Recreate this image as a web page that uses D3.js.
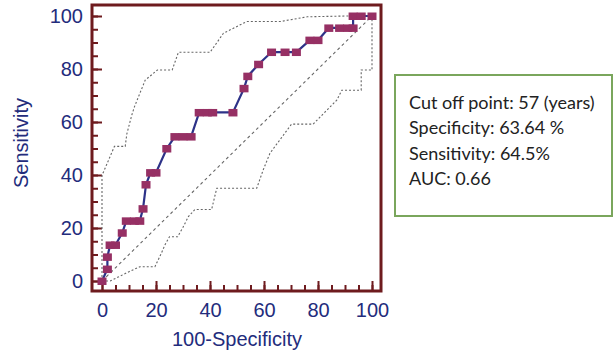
<!DOCTYPE html>
<html>
<head>
<meta charset="utf-8">
<script src="https://cdn.jsdelivr.net/npm/d3@7"></script>
<style>
  body { margin: 0; background: #fff; }
  svg { display: block; }
</style>
</head>
<body>
<div id="chart-area"></div>
<script>
// ROC curve (100-specificity, sensitivity)
const rocX = [0, 2, 2, 3, 5, 7.5, 9, 12, 14, 15.2, 16.3, 18, 20, 24, 27, 30, 33, 36, 39, 41, 48.5, 52.6, 54, 58, 62.8, 67.8, 72, 77, 80, 84, 88, 91, 93, 93, 96, 100]
const rocY = [0, 4.5, 9.1, 13.6, 13.6, 18.2, 22.7, 22.7, 22.7, 27.3, 36.4, 40.9, 40.9, 50, 54.5, 54.5, 54.5, 63.6, 63.6, 63.6, 63.6, 72.7, 77.3, 81.8, 86.4, 86.4, 86.4, 90.9, 90.9, 95.5, 95.5, 95.5, 95.5, 100, 100, 100]

// confidence bounds
const upperX = [0, 0, 0.5, 4.6, 8.6, 9.2, 11, 12, 16, 20.5, 26, 28.3, 40, 45, 53.6, 66, 76, 90.6, 100]
const upperY = [0, 40, 41, 50.8, 50.8, 55.5, 62.5, 65.7, 75.8, 79.6, 79.6, 86.3, 86.3, 93.5, 97.9, 97.9, 99.7, 100, 100]
const lowerX = [0, 3, 6, 10, 14, 19.6, 22, 23.3, 25, 28, 30, 32, 34.4, 40.6, 42.5, 57.3, 59.7, 62.2, 70.2, 78.2, 87, 88.8, 96, 96, 100, 100]
const lowerY = [0, 0, 1.5, 3.5, 5.4, 5.4, 10.5, 13.6, 16.7, 16.7, 20.3, 24.3, 27, 27, 35, 35, 41.9, 48.2, 59.2, 59.2, 68.3, 72, 72, 79.6, 79.6, 100]

const xTicks = [0, 20, 40, 60, 80, 100]
const yTicks = [0, 20, 40, 60, 80, 100]
const boxLines = ["Cut off point: 57 (years)", "Specificity: 63.64 %", "Sensitivity: 64.5%", "AUC: 0.66"]

const FRAME = {LEFT: 92, RIGHT: 381, TOP: 5, BOTTOM: 291}
const DARKRED = "#6e1b1e"
const NAVY = "#232c7c"

const svg = d3.select("#chart-area").append("svg")
    .attr("width", 614)
    .attr("height", 354)

const x = d3.scaleLinear().domain([0, 100]).range([102, 372])
const y = d3.scaleLinear().domain([0, 100]).range([281, 16])

const fiveSteps = d3.range(0, 101, 5)

// axes, ticks pointing inward
const yAxisMinor = d3.axisLeft(y).tickValues(fiveSteps).tickSize(-6).tickFormat("")
const yAxisCall = d3.axisLeft(y).tickValues(yTicks).tickSize(-10).tickPadding(9)
const xAxisMinor = d3.axisBottom(x).tickValues(fiveSteps).tickSize(-6).tickFormat("")
const xAxisCall = d3.axisBottom(x).tickValues(xTicks).tickSize(-10).tickPadding(12)

const styleAxis = sel => {
    sel.select(".domain").remove()
    sel.selectAll("line").attr("stroke", DARKRED).attr("stroke-width", 2)
    sel.selectAll("text")
        .attr("fill", NAVY)
        .attr("font-family", "Liberation Sans, Arial, sans-serif")
        .attr("font-size", "20px")
}

svg.append("g").attr("transform", `translate(${FRAME.LEFT},0)`).call(yAxisMinor).call(styleAxis)
svg.append("g").attr("transform", `translate(${FRAME.LEFT},0)`).call(yAxisCall).call(styleAxis)
svg.append("g").attr("transform", `translate(0,${FRAME.BOTTOM})`).call(xAxisMinor).call(styleAxis)
svg.append("g").attr("transform", `translate(0,${FRAME.BOTTOM})`).call(xAxisCall).call(styleAxis)

// frame
svg.append("rect")
    .attr("x", FRAME.LEFT)
    .attr("y", FRAME.TOP)
    .attr("width", FRAME.RIGHT - FRAME.LEFT)
    .attr("height", FRAME.BOTTOM - FRAME.TOP)
    .attr("fill", "none")
    .attr("stroke", DARKRED)
    .attr("stroke-width", 3)

// axis labels
svg.append("text")
    .attr("x", 237)
    .attr("y", 346)
    .attr("text-anchor", "middle")
    .attr("font-family", "Liberation Sans, Arial, sans-serif")
    .attr("font-size", "20px")
    .attr("fill", NAVY)
    .text("100-Specificity")

svg.append("text")
    .attr("transform", "translate(28,143) rotate(-90)")
    .attr("text-anchor", "middle")
    .attr("font-family", "Liberation Sans, Arial, sans-serif")
    .attr("font-size", "20px")
    .attr("fill", NAVY)
    .text("Sensitivity")

const line = d3.line().x(d => x(d[0])).y(d => y(d[1]))

// diagonal and confidence bounds
svg.append("path")
    .attr("d", line([[0, 0], [100, 100]]))
    .attr("fill", "none")
    .attr("stroke", "#666")
    .attr("stroke-width", 1.1)
    .attr("stroke-dasharray", "3,3")

const bounds = [d3.zip(upperX, upperY), d3.zip(lowerX, lowerY)]
svg.selectAll(".bound").data(bounds).enter().append("path")
    .attr("class", "bound")
    .attr("d", line)
    .attr("fill", "none")
    .attr("stroke", "#666")
    .attr("stroke-width", 1.1)
    .attr("stroke-dasharray", "2,2")

// ROC curve
const roc = d3.zip(rocX, rocY)
svg.append("path")
    .attr("d", line(roc))
    .attr("fill", "none")
    .attr("stroke", "#2d3288")
    .attr("stroke-width", 2.2)

svg.selectAll(".pt").data(roc).enter().append("rect")
    .attr("class", "pt")
    .attr("x", d => x(d[0]) - 4.5)
    .attr("y", d => y(d[1]) - 3.5)
    .attr("width", 9)
    .attr("height", 7.5)
    .attr("fill", "#963064")

// info box
svg.append("rect")
    .attr("x", 395)
    .attr("y", 75)
    .attr("width", 217)
    .attr("height", 141)
    .attr("fill", "#fff")
    .attr("stroke", "#7aa65c")
    .attr("stroke-width", 2)

svg.selectAll(".info").data(boxLines).enter().append("text")
    .attr("class", "info")
    .attr("x", 409)
    .attr("y", (d, i) => 109 + i * 25.3)
    .attr("font-family", "Lato, sans-serif")
    .attr("font-size", "18px")
    .attr("fill", "#222")
    .text(d => d)
</script>
</body>
</html>
